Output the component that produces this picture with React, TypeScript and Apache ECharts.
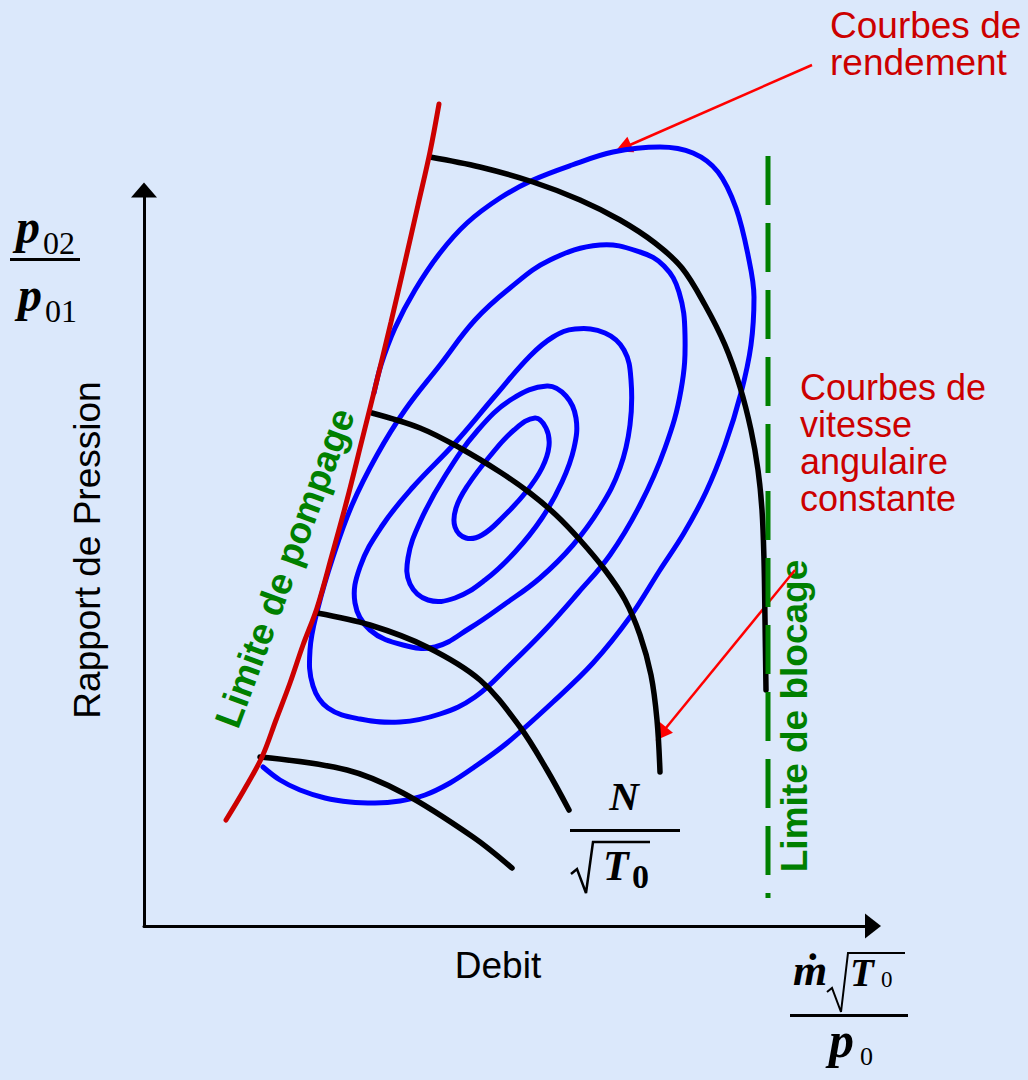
import React, { useEffect, useRef } from "react";
import * as echarts from "echarts";

// Diagram units: origin at the corner of the two axes,
// x = reduced mass flow, y = pressure ratio (schematic, no numeric scale).
const X_MAX = 729;
const Y_MAX = 736;

// Surge limit ("Limite de pompage")
const surgeLimit: number[][] = [
  [82, 106], [100, 136], [118, 169], [132, 206], [146, 243], [159, 281],
  [173, 318], [188, 371], [203, 426], [218, 486], [233, 546], [247, 604],
  [261, 664], [274, 721], [286, 774], [295, 822],
];

// Choke limit ("Limite de blocage")
const chokeLimit: number[][] = [[624, 770], [624, 28]];

// Constant corrected-speed lines, highest speed first
const speedLine1: number[][] = [
  [286, 769], [336, 759], [389, 744], [436, 726], [476, 706], [511, 683],
  [538, 658], [561, 621], [581, 581], [596, 539], [607, 496], [614, 456],
  [618, 416], [620, 366], [621, 306], [622, 236],
];
const speedLine2: number[][] = [
  [228, 513], [276, 498], [316, 478], [356, 454], [386, 433], [412, 411],
  [436, 386], [461, 356], [481, 326], [496, 291], [507, 251], [513, 206],
  [516, 154],
];
const speedLine3: number[][] = [
  [173, 313], [226, 301], [283, 279], [336, 246], [376, 199], [403, 156],
  [425, 116],
];
const speedLine4: number[][] = [
  [116, 169], [203, 156], [259, 133], [329, 89], [368, 58],
];

// Efficiency islands, innermost (peak efficiency) first
const effLoop1: number[][] = [
  [391, 508], [402, 498], [405, 480], [398, 458], [382, 434], [359, 409],
  [338, 391], [322, 388], [311, 399], [312, 418], [324, 441], [346, 470],
  [370, 496],
];
const effLoop2: number[][] = [
  [403, 540], [422, 530], [432, 508], [430, 478], [418, 444], [398, 408],
  [371, 374], [341, 346], [311, 328], [284, 326], [266, 342], [264, 368],
  [276, 404], [301, 450], [334, 496], [368, 527],
];
const effLoop3: number[][] = [
  [431, 597], [461, 593], [480, 576], [487, 546], [486, 501], [476, 458],
  [456, 418], [429, 381], [396, 348], [361, 322], [326, 298], [291, 279],
  [259, 281], [226, 296], [211, 323], [216, 359], [238, 400], [269, 439],
  [311, 483], [351, 530], [386, 570], [409, 589],
];
const effLoop4: number[][] = [
  [456, 681], [496, 674], [520, 660], [535, 634], [541, 591], [537, 536],
  [521, 478], [496, 421], [466, 371], [434, 333], [401, 296], [366, 261],
  [331, 229], [296, 212], [256, 204], [216, 207], [184, 218], [169, 240],
  [166, 276], [174, 318], [189, 369], [208, 421], [233, 471], [261, 516],
  [296, 561], [331, 606], [366, 638], [406, 666],
];
// Outermost efficiency curve, open at the surge line
const effOuter: number[][] = [
  [230, 533], [237, 561], [251, 598], [271, 636], [296, 673], [323, 703],
  [356, 728], [389, 746], [428, 761], [469, 774], [516, 779], [549, 773],
  [574, 754], [592, 718], [604, 671], [610, 629], [607, 581], [597, 533],
  [581, 481], [562, 434], [540, 393], [516, 356], [486, 309], [449, 263],
  [409, 224], [363, 183], [329, 158], [306, 143], [281, 131], [256, 125],
  [231, 123], [206, 124], [181, 128], [156, 136], [136, 146], [119, 159],
];

// Callout pointers (tail, head)
const pointerEfficiency: number[][] = [[668, 861], [479, 778]];
const pointerSpeed: number[][] = [[651, 356], [517, 192]];

// Callout captions
const efficiencyCaption = ["Courbes de", "rendement"];
const speedCaption = ["Courbes de", "vitesse", "angulaire", "constante"];

const BG = "#dbe8fb";
const BLUE = "#0000ff";
const DARK_RED = "#cc0000";
const GREEN = "#008000";
const SANS = '"Liberation Sans", Arial, sans-serif';
const SERIF = '"Liberation Serif", "Times New Roman", "DejaVu Serif", serif';

const curve = (data: number[][], color: string, width: number) => ({
  type: "line",
  data,
  smooth: 0.35,
  symbol: "none",
  showSymbol: false,
  clip: false,
  silent: true,
  lineStyle: { color, width, cap: "round" },
});

const loop = (pts: number[][]) => ({
  type: "custom",
  coordinateSystem: "cartesian2d",
  data: pts,
  clip: false,
  silent: true,
  renderItem: (params: any, api: any) => {
    if (params.dataIndex !== 0) return null;
    return {
      type: "polygon",
      shape: { points: pts.map((p) => api.coord(p)), smooth: 0.4 },
      style: { fill: "none", stroke: BLUE, lineWidth: 5 },
    };
  },
});

const txt = (
  x: number,
  y: number,
  text: string,
  font: string,
  fill: string,
  align = "left",
  vAlign = "middle",
  rotation = 0
) => ({
  type: "text",
  x,
  y,
  rotation,
  silent: true,
  style: { text, font, fill, textAlign: align, textVerticalAlign: vAlign },
});

// one text element per caption line, stacked at a fixed pitch
const caption = (lines: string[], x: number, yFirst: number, pitch: number, size: number) =>
  lines.map((line, i) => txt(x, yFirst + i * pitch, line, `${size}px ${SANS}`, DARK_RED));

const bar = (x: number, y: number, w: number, h: number) => ({
  type: "rect",
  silent: true,
  shape: { x, y, width: w, height: h },
  style: { fill: "#000" },
});

const radical = (points: number[][], w: number) => ({
  type: "polyline",
  silent: true,
  shape: { points },
  style: { stroke: "#000", lineWidth: w, fill: null, lineJoin: "miter" },
});

export default function App() {
  const ref = useRef<HTMLDivElement>(null);

  useEffect(() => {
    if (!ref.current) return;
    const chart = echarts.init(ref.current, undefined, { renderer: "svg" });

    const axisCommon = {
      type: "value",
      axisTick: { show: false },
      axisLabel: { show: false },
      splitLine: { show: false },
    };

    chart.setOption({
      animation: false,
      backgroundColor: BG,
      grid: { left: 144, right: 155, top: 190, bottom: 154, containLabel: false },
      xAxis: {
        ...axisCommon,
        min: 0,
        max: X_MAX,
        axisLine: {
          show: true,
          onZero: false,
          symbol: ["none", "triangle"],
          symbolSize: [25, 16],
          lineStyle: { color: "#000", width: 3 },
        },
      },
      yAxis: {
        ...axisCommon,
        min: 0,
        max: Y_MAX,
        axisLine: {
          show: true,
          onZero: false,
          symbol: ["none", "triangle"],
          symbolSize: [26, 15],
          lineStyle: { color: "#000", width: 3 },
        },
      },
      series: [
        loop(effLoop1),
        loop(effLoop2),
        loop(effLoop3),
        loop(effLoop4),
        curve(effOuter, BLUE, 5),
        curve(speedLine1, "#000", 5.5),
        curve(speedLine2, "#000", 5.5),
        curve(speedLine3, "#000", 5.5),
        curve(speedLine4, "#000", 5.5),
        curve(surgeLimit, DARK_RED, 5),
        {
          type: "line",
          data: chokeLimit,
          symbol: "none",
          showSymbol: false,
          clip: false,
          silent: true,
          lineStyle: { color: GREEN, width: 5, type: [49, 18], cap: "butt" },
        },
        {
          type: "lines",
          coordinateSystem: "cartesian2d",
          clip: false,
          silent: true,
          symbol: ["none", "triangle"],
          symbolSize: 17,
          lineStyle: { color: "#ff0000", width: 2.5, opacity: 1, curveness: 0 },
          itemStyle: { color: "#ff0000" },
          data: [{ coords: pointerEfficiency }, { coords: pointerSpeed }],
        },
      ],
      graphic: [
        ...caption(efficiencyCaption, 830, 25, 37, 37),
        ...caption(speedCaption, 800, 387, 37, 36),
        txt(87, 550, "Rapport de Pression", `37px ${SANS}`, "#000", "center", "middle", Math.PI / 2),
        txt(498, 965, "Debit", `37px ${SANS}`, "#000", "center", "middle"),
        txt(285, 568, "Limite de pompage", `bold 37px ${SANS}`, GREEN, "center", "middle", 1.215),
        txt(794, 716, "Limite de blocage", `bold 37px ${SANS}`, GREEN, "center", "middle", Math.PI / 2),

        // p02 / p01
        txt(16, 226, "p", `italic bold 48px ${SERIF}`, "#000"),
        txt(43, 243, "02", `32px ${SERIF}`, "#000"),
        bar(10, 258, 70, 3),
        txt(18, 294, "p", `italic bold 48px ${SERIF}`, "#000"),
        txt(45, 311, "01", `32px ${SERIF}`, "#000"),

        // m-dot sqrt(T0) / p0
        txt(793, 970, "ṁ", `italic bold 44px ${SERIF}`, "#000"),
        radical([[827, 992], [832, 988], [841, 1012], [848, 953], [905, 953]], 2),
        txt(850, 972, "T", `italic bold 39px ${SERIF}`, "#000"),
        txt(881, 979, "0", `23px ${SERIF}`, "#000"),
        bar(790, 1014, 118, 3),
        txt(829, 1040, "p", `italic bold 50px ${SERIF}`, "#000"),
        txt(860, 1056, "0", `26px ${SERIF}`, "#000"),

        // N / sqrt(T0)
        txt(624, 796, "N", `italic bold 41px ${SERIF}`, "#000", "center"),
        bar(570, 829, 110, 3),
        radical([[571, 874], [577, 869], [586, 893], [593, 842], [650, 842]], 2.5),
        txt(603, 866, "T", `italic bold 42px ${SERIF}`, "#000"),
        txt(632, 876, "0", `bold 34px ${SERIF}`, "#000"),
      ],
    });

    return () => chart.dispose();
  }, []);

  return (
    <div
      ref={ref}
      style={{ position: "absolute", left: 0, top: 0, width: 1028, height: 1080 }}
    />
  );
}
